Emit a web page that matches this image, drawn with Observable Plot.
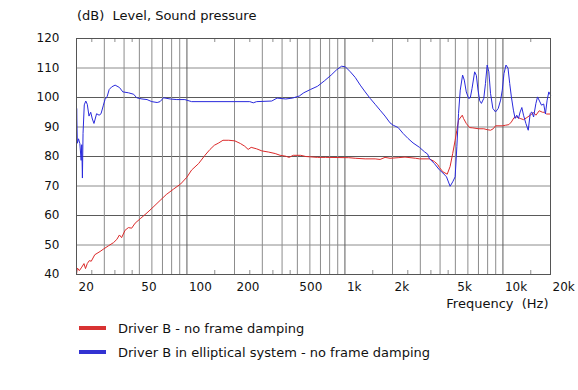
<!DOCTYPE html>
<html><head><meta charset="utf-8">
<script src="https://cdn.jsdelivr.net/npm/d3@7"></script>
<script src="https://cdn.jsdelivr.net/npm/@observablehq/plot@0.6"></script>
<style>
html,body{margin:0;padding:0;background:#fff;}
body{width:578px;height:390px;overflow:hidden;font-family:"DejaVu Sans",sans-serif;color:#111;}
#title{height:30px;box-sizing:border-box;padding:8px 0 0 77px;font-size:13px;line-height:16px;white-space:pre;}
#chart{height:282px;}
#legend{padding-top:4px;}
.row{height:24px;display:flex;align-items:center;font-size:13px;white-space:pre;}
.sw{width:27px;height:4px;margin-left:79px;margin-right:12px;}
svg text{white-space:pre;}
</style></head><body>
<div id="title"></div>
<div id="chart"></div>
<div id="legend"></div>
<script>
const titleText = "(dB)  Level, Sound pressure";
const xLabelText = "Frequency  (Hz)";
const seriesNames = ["Driver B - no frame damping", "Driver B in elliptical system - no frame damping"];
const seriesColors = ["#dc2a2a", "#2a2adc"];
const swatchColors = ["#d83232", "#3232d2"];

const xTicks = [20, 50, 100, 200, 500, 1000, 2000, 5000, 10000, 20000];
const xTickLabels = ["20", "50", "100", "200", "500", "1k", "2k", "5k", "10k", "20k"];
const xGridLight = [30,40,50,60,70,80,90,200,300,400,500,600,700,800,900,2000,3000,4000,5000,6000,7000,8000,9000];
const xGridDark = [100, 1000, 10000];
const xMinor = [25,35,45,150,250,350,450,1500,2500,3500,4500,15000];
const yTicks = [40, 50, 60, 70, 80, 90, 100, 110, 120];
const yGridLight = [50, 70, 90, 110];
const yGridDark = [60, 80, 100];

const redFreq = [20,20.24,20.84,21.6,22.3,22.8,23.4,24.1,24.8,26.1,28.2,29.6,31.8,34.3,36.0,37.4,38.6,40.6,42.6,44.7,47.0,50.6,55.9,61.0,67.6,74.0,82.5,91.3,100,107,118.5,130,140,149,159,169,184,201,218,232,244,255,276,298,329,362,389,422,443,471,525,565,670,755,1056,1162,1343,1553,1669,1794,1929,2172,2400,2800,2964,3425,3682,3862,3958,4171,4440,4630,4809,4984,5109,5236,5530,5630,5861,6150,6450,7030,7563,7945,8345,8680,8978,9906,10400,10900,11310,11760,12230,12850,13500,14180,14880,15630,16170,16970,17800,18300,18900,20000];
const redDb = [40.0,42.2,41.3,42.5,43.7,42.0,43.7,44.7,44.5,46.7,47.8,48.6,49.7,50.8,51.9,53.4,52.5,55.0,55.9,55.7,57.4,58.9,60.9,62.8,65.1,67.1,69.0,70.7,73.0,75.4,77.6,80.4,82.4,83.8,84.6,85.5,85.5,85.3,84.4,83.5,82.4,83.1,82.6,81.9,81.5,81.0,80.4,80.1,79.7,80.4,80.4,80.0,79.7,79.7,79.6,79.4,79.2,79.2,79.0,79.7,79.4,79.6,79.8,79.4,79.2,79.2,78.3,77.3,76.3,74.8,74.0,76.6,81.0,85.5,88.9,92.3,94.0,92.9,91.2,89.8,89.7,89.4,89.4,89.1,88.9,89.4,90.4,90.4,90.6,90.8,91.7,93.2,93.4,92.9,92.5,93.2,94.0,94.9,94.0,95.5,95.0,95.0,94.4,94.4];

const blueFreq = [20,20.05,20.25,20.6,21.0,21.4,21.6,21.8,22.0,22.4,22.9,23.4,24.0,24.6,25.2,25.8,26.8,27.8,28.6,29.6,30.3,31.3,32.2,33.4,35.1,37.4,39.3,42.6,46.0,48.1,51.9,55.9,59.9,64.8,67.6,71.1,78.3,86.3,97,107,250,263,276,344,372,422,466,514,549,604,670,740,818,882,952,1006,1082,1162,1250,1343,1444,1553,1669,1794,1929,2021,2172,2335,2510,2698,2964,3186,3338,3425,3682,3958,4171,4394,4630,4809,4984,5109,5236,5367,5555,5694,5861,6064,6214,6371,6621,6788,6957,7128,7307,7563,7752,7945,8143,8345,8634,8978,9337,9666,9906,10150,10455,10770,11040,11310,11650,11940,12230,12540,12850,13170,13500,13970,14460,14880,15250,15630,16170,16560,17140,17540,18110,18570,19040,19520,20000];
const blueDb = [92.5,96.3,84.5,86.0,84.4,78.7,84.0,72.7,87.8,97.5,98.8,97.7,93.7,95.0,92.7,91.2,94.5,94.0,94.5,97.4,99.3,100.4,102.7,103.6,104.2,103.4,101.9,101.6,101.1,99.9,99.5,99.3,98.6,98.3,98.6,99.9,99.5,99.3,99.3,98.6,98.6,98.2,98.6,98.8,99.8,99.5,99.8,100.5,101.6,102.7,103.8,105.6,107.6,109.3,110.6,110.4,108.7,106.8,104.2,101.9,99.7,97.7,95.7,93.7,91.4,90.6,89.8,87.8,86.1,84.6,83.1,81.6,80.8,79.3,77.6,75.5,74.4,73.1,69.9,71.4,73.1,83.3,94.6,102.5,107.6,105.9,101.9,99.7,99.9,103.0,108.7,107.5,102.5,98.9,98.0,99.7,104.7,111.0,108.7,101.4,96.3,95.1,96.3,99.1,102.5,108.1,111.0,109.9,104.7,100.2,95.7,92.9,94.0,92.9,95.1,96.6,94.0,91.2,88.9,94.6,95.1,93.4,98.0,100.2,98.5,97.4,97.8,94.4,99.1,101.9,100.8];

const red = redFreq.map((f, i) => ({f, db: redDb[i]}));
const blue = blueFreq.map((f, i) => ({f, db: blueDb[i]}));
const xTickRows = xTicks.map((f, i) => ({f, label: xTickLabels[i]}));

document.getElementById("title").textContent = titleText;

const light = "#8c8c8c", dark = "#5a5a5a";
const chart = Plot.plot({
  width: 578, height: 282,
  marginTop: 8, marginBottom: 38, marginLeft: 76, marginRight: 28,
  style: {fontFamily: "DejaVu Sans, sans-serif", fontSize: "12px", color: "#111", background: "#fff", overflow: "visible"},
  x: {type: "log", domain: [20, 20000], label: null, axis: null},
  y: {domain: [40, 120], label: null},
  marks: [
    Plot.ruleY(yGridLight, {stroke: light}),
    Plot.ruleY(yGridDark, {stroke: dark}),
    Plot.ruleX(xGridLight, {stroke: light}),
    Plot.ruleX(xGridDark, {stroke: dark}),
    Plot.tickX(xMinor, {x: d => d, stroke: light, insetBottom: 232}),
    Plot.tickX(xMinor, {x: d => d, stroke: light, insetTop: 232}),
    Plot.line(red, {x: "f", y: "db", stroke: seriesColors[0], strokeWidth: 1}),
    Plot.line(blue, {x: "f", y: "db", stroke: seriesColors[1], strokeWidth: 1}),
    Plot.frame({stroke: "#555"}),
    Plot.axisY({ticks: yTicks, tickSize: 0, tickPadding: 17, label: null}),
    Plot.text(xTickRows, {x: "f", text: "label", frameAnchor: "bottom", textAnchor: "start", lineAnchor: "middle", dx: 2, dy: 13}),
    Plot.text([xLabelText], {text: d => d, frameAnchor: "bottom-right", textAnchor: "end", lineAnchor: "middle", dy: 29, dx: -2, fontSize: 13})
  ]
});
document.getElementById("chart").appendChild(chart);

const legend = document.getElementById("legend");
seriesNames.forEach((name, i) => {
  const row = document.createElement("div");
  row.className = "row";
  const sw = document.createElement("div");
  sw.className = "sw";
  sw.style.background = swatchColors[i];
  const t = document.createElement("span");
  t.textContent = name;
  row.appendChild(sw); row.appendChild(t);
  legend.appendChild(row);
});
</script>
</body></html>
